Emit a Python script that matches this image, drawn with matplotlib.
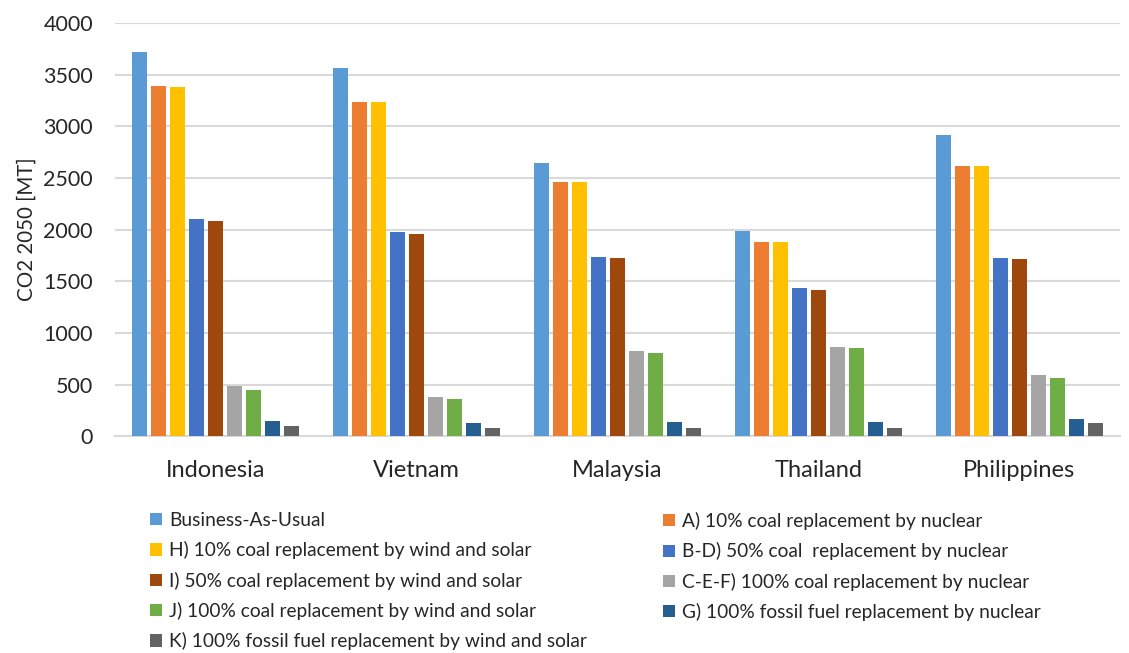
import numpy as np
from matplotlib import pyplot as plt
from matplotlib.patches import Patch

plt.rcParams['font.family'] = ['Lato', 'DejaVu Sans']

countries = ['Indonesia', 'Vietnam', 'Malaysia', 'Thailand', 'Philippines']

scenarios = [
    'Business-As-Usual',
    'A) 10% coal replacement by nuclear',
    'H) 10% coal replacement by wind and solar',
    'B-D) 50% coal  replacement by nuclear',
    'I) 50% coal replacement by wind and solar',
    'C-E-F) 100% coal replacement by nuclear',
    'J) 100% coal replacement by wind and solar',
    'G) 100% fossil fuel replacement by nuclear',
    'K) 100% fossil fuel replacement by wind and solar',
]

colors = ['#5B9BD5', '#ED7D31', '#FFC000', '#4472C4', '#9E480E',
          '#A5A5A5', '#70AD47', '#255E91', '#636363']

# values per scenario, ordered by country
bau = [3714, 3559, 2643, 1984, 2914]
a_nuc10 = [3391, 3236, 2459, 1875, 2613]
h_ws10 = [3381, 3236, 2459, 1875, 2613]
bd_nuc50 = [2098, 1972, 1730, 1430, 1720]
i_ws50 = [2078, 1952, 1720, 1416, 1711]
cef_nuc100 = [484, 384, 823, 861, 597]
j_ws100 = [445, 358, 803, 852, 568]
g_fos_nuc = [148, 123, 133, 133, 171]
k_fos_ws = [94, 75, 84, 84, 123]

series = [bau, a_nuc10, h_ws10, bd_nuc50, i_ws50,
          cef_nuc100, j_ws100, g_fos_nuc, k_fos_ws]

fig = plt.figure(figsize=(11.29, 6.53), dpi=100)
ax = fig.add_axes([0.102, 0.332, 0.89, 0.633])

x = np.arange(len(countries))
n = len(series)
step = 0.85 / n
width = step * 0.80
handles = []
for i, vals in enumerate(series):
    pos = x - 0.425 + step * (i + 0.5)
    ax.bar(pos, vals, width=width, color=colors[i], zorder=3)
    handles.append(Patch(facecolor=colors[i], label=scenarios[i]))

ax.set_xlim(-0.5, len(countries) - 0.5)
ax.set_ylim(0, 4000)
ax.set_yticks(range(0, 4001, 500))
ax.set_xticks(x)
ax.set_xticklabels(countries, fontsize=17, color='#262626')
ax.tick_params(axis='y', labelsize=15.5, colors='#262626', length=0, pad=16)
ax.tick_params(axis='x', length=0, pad=17)
ax.set_ylabel('CO2 2050 [MT]', fontsize=14.8, color='#262626', labelpad=5)

ax.grid(axis='y', color='#d9d9d9', linewidth=1.5, zorder=0)
for s in ['top', 'right', 'left']:
    ax.spines[s].set_visible(False)
ax.spines['bottom'].set_color('#d9d9d9')
ax.spines['bottom'].set_linewidth(1.5)

left_idx = [0, 2, 4, 6, 8]
right_idx = [1, 3, 5, 7]
kw = dict(frameon=False, fontsize=13.8, handlelength=0.6, handleheight=0.6,
          handletextpad=0.4, labelspacing=0.64, borderaxespad=0, borderpad=0,
          loc='upper left')
leg1 = fig.legend([handles[i] for i in left_idx], [scenarios[i] for i in left_idx],
                  bbox_to_anchor=(150 / 1129, 1 - 512 / 653), **kw)
leg2 = fig.legend([handles[i] for i in right_idx], [scenarios[i] for i in right_idx],
                  bbox_to_anchor=(663 / 1129, 1 - 512 / 653), **kw)
for leg in (leg1, leg2):
    for t in leg.get_texts():
        t.set_color('#262626')

plt.savefig('out.png')
